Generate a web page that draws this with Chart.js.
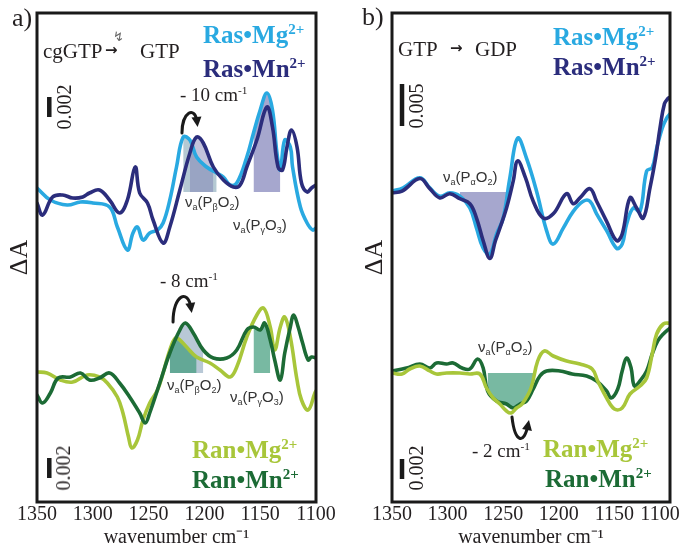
<!DOCTYPE html>
<html>
<head>
<meta charset="utf-8">
<title>FTIR difference spectra</title>
<script src="https://cdn.jsdelivr.net/npm/chart.js@4.4.1/dist/chart.umd.min.js"></script>
<style>
  html, body { margin:0; padding:0; background:#fff; }
  body { position:relative; width:679px; height:545px; overflow:hidden;
         font-family:"Liberation Serif", "Times New Roman", serif; color:#231f20; }
  canvas { position:absolute; top:0; }
  #chart-a { left:0; }
  #chart-b { left:340px; }
  .t { position:absolute; white-space:nowrap; line-height:1; }
  .panel { font-size:26px; }
  .rxn { font-size:21px; }
  .arr { font-family:"DejaVu Sans", sans-serif; font-size:15px; font-weight:bold; }
  .flash { font-family:"DejaVu Sans", sans-serif; font-size:13px; color:#666; }
  .leg { font-size:25px; font-weight:bold; }
  .leg sup, .shift sup { font-size:0.6em; vertical-align:0.6em; line-height:0; }
  .shift { font-size:19px; }
  .mode { font-family:"Liberation Sans", Arial, sans-serif; font-size:15px; color:#333; }
  .mode sub { font-size:0.6em; vertical-align:-0.35em; line-height:0; }
  .bar { font-size:20px; transform:translate(-50%,-50%) rotate(-90deg); }
  .ras-mg { color:#29a9e1; } .ras-mn { color:#2b2d7c; }
  .ran-mg { color:#a8c63a; } .ran-mn { color:#1c6b35; }
</style>
</head>
<body>
<canvas id="chart-a" width="340" height="545"></canvas>
<canvas id="chart-b" width="339" height="545"></canvas>

<!-- panel a) -->
<div class="t panel" style="left:12px;top:5px;">a)</div>
<div class="t rxn" style="left:43px;top:41px;">cgGTP</div>
<div class="t arr" style="left:105px;top:43px;">→</div>
<div class="t flash" style="left:113px;top:30px;">↯</div>
<div class="t rxn" style="left:140px;top:41px;">GTP</div>
<div class="t leg ras-mg" style="left:203px;top:22px;">Ras•Mg<sup>2+</sup></div>
<div class="t leg ras-mn" style="left:203px;top:56px;">Ras•Mn<sup>2+</sup></div>
<div class="t leg ran-mg" style="left:192px;top:437px;">Ran•Mg<sup>2+</sup></div>
<div class="t leg ran-mn" style="left:192px;top:467px;">Ran•Mn<sup>2+</sup></div>
<div class="t shift" style="left:180px;top:85px;">- 10 cm<sup>-1</sup></div>
<div class="t shift" style="left:160px;top:271px;">- 8 cm<sup>-1</sup></div>
<div class="t mode" style="left:185px;top:194px;">ν<sub>a</sub>(P<sub>β</sub>O<sub>2</sub>)</div>
<div class="t mode" style="left:233px;top:217px;">ν<sub>a</sub>(P<sub>γ</sub>O<sub>3</sub>)</div>
<div class="t mode" style="left:167px;top:377px;">ν<sub>a</sub>(P<sub>β</sub>O<sub>2</sub>)</div>
<div class="t mode" style="left:230px;top:389px;">ν<sub>a</sub>(P<sub>γ</sub>O<sub>3</sub>)</div>
<div class="t bar" style="left:64px;top:107px;">0.002</div>
<div class="t bar" style="left:63px;top:468px;">0.002</div>

<!-- panel b) -->
<div class="t panel" style="left:362px;top:4px;">b)</div>
<div class="t rxn" style="left:398px;top:39px;">GTP</div>
<div class="t arr" style="left:450px;top:41px;">→</div>
<div class="t rxn" style="left:475px;top:39px;">GDP</div>
<div class="t leg ras-mg" style="left:553px;top:24px;">Ras•Mg<sup>2+</sup></div>
<div class="t leg ras-mn" style="left:553px;top:54px;">Ras•Mn<sup>2+</sup></div>
<div class="t leg ran-mg" style="left:543px;top:436px;">Ran•Mg<sup>2+</sup></div>
<div class="t leg ran-mn" style="left:545px;top:466px;">Ran•Mn<sup>2+</sup></div>
<div class="t shift" style="left:472px;top:441px;">- 2 cm<sup>-1</sup></div>
<div class="t mode" style="left:443px;top:169px;">ν<sub>a</sub>(P<sub>α</sub>O<sub>2</sub>)</div>
<div class="t mode" style="left:478px;top:339px;">ν<sub>a</sub>(P<sub>α</sub>O<sub>2</sub>)</div>
<div class="t bar" style="left:416px;top:106px;">0.005</div>
<div class="t bar" style="left:416px;top:468px;">0.002</div>

<script>
/* ── 資料：[wavenumber cm-1, ΔA (mOD)] 讀自各條曲線 ───────────── */

// a) cgGTP → GTP
const rasMgA = [[1350,0.4],[1338,-0.8],[1323,-1.3],[1311,-1.0],[1300,-1.1],[1285,-1.5],[1278,-3.5],[1269,-5.8],[1264,-4.1],[1260,-3.5],[1255,-4.8],[1249,-4.1],[1242,-3.8],[1237,-3.1],[1231,-0.8],[1225,2.5],[1219,5.5],[1213,5.2],[1207,3.5],[1198,2.5],[1189,1.9],[1183,1.5],[1177,0.7],[1171,0.9],[1162,3.5],[1156,5.9],[1150,8.2],[1144,9.9],[1139,8.2],[1135,3.9],[1132,2.2],[1128,5.2],[1123,4.5],[1121,2.5],[1114,-1.5],[1108,-3.1],[1103,-3.8],[1100,-3.6]];
const rasMnA = [[1350,-1.1],[1345,-2.3],[1336,-0.5],[1327,-0.3],[1318,-0.6],[1309,-0.5],[1303,-0.1],[1294,0.2],[1285,-0.8],[1276,-2.1],[1269,-0.8],[1262,2.5],[1258,-0.1],[1251,-1.1],[1246,-2.8],[1237,-5.1],[1231,-3.5],[1222,0.2],[1213,3.9],[1207,5.5],[1201,4.9],[1192,2.5],[1183,1.2],[1174,0.5],[1168,0.7],[1162,2.5],[1153,5.2],[1144,8.5],[1139,6.5],[1134,2.5],[1130,2.2],[1126,4.5],[1122,6.2],[1117,4.5],[1113,0.9],[1108,0.0],[1104,0.4],[1100,0.7]];
const ranMgA = [[1350,0.1],[1341,0.0],[1329,-0.7],[1318,-0.9],[1305,-0.2],[1294,-0.4],[1287,-1.0],[1278,-2.4],[1273,-4.0],[1268,-6.4],[1265,-7.5],[1260,-6.7],[1255,-4.7],[1249,-3.0],[1242,-1.7],[1237,0.0],[1231,2.3],[1226,3.5],[1222,3.3],[1216,2.6],[1207,1.6],[1195,1.0],[1186,0.3],[1177,-0.4],[1171,0.6],[1162,3.6],[1153,5.8],[1147,6.5],[1141,4.6],[1137,2.3],[1132,4.6],[1128,5.6],[1123,3.6],[1117,-0.7],[1113,-2.7],[1107,-3.7],[1101,-2.0],[1100,-1.8]];
const ranMnA = [[1350,-2.2],[1345,-3.0],[1338,-2.0],[1331,-0.5],[1320,-0.4],[1311,0.0],[1303,-0.7],[1294,-0.5],[1285,0.0],[1276,-1.0],[1267,-2.4],[1258,-4.0],[1253,-5.0],[1249,-4.0],[1240,-1.0],[1231,2.0],[1222,4.3],[1217,5.0],[1210,4.0],[1201,2.3],[1192,1.5],[1180,1.5],[1171,2.3],[1162,4.3],[1156,4.6],[1150,4.3],[1146,5.0],[1141,3.3],[1137,1.3],[1132,-0.7],[1128,2.0],[1123,4.6],[1120,5.8],[1116,4.6],[1112,3.0],[1107,1.3],[1104,1.6],[1100,1.5]];

// b) GTP → GDP
const rasMgB = [[1350,0.1],[1340,0.5],[1325,1.7],[1316,0.5],[1307,-0.5],[1298,-0.1],[1289,-0.5],[1280,-1.9],[1274,-4.3],[1268,-6.7],[1262,-7.4],[1256,-5.0],[1250,-3.1],[1244,1.7],[1237,6.4],[1229,4.0],[1220,0.1],[1211,-4.6],[1205,-6.2],[1196,-4.3],[1187,-2.3],[1178,-1.1],[1172,-1.1],[1166,-2.6],[1157,-4.6],[1148,-6.7],[1143,-6.2],[1139,-3.8],[1133,-1.9],[1127,-2.3],[1121,2.5],[1116,2.9],[1112,5.2],[1107,7.6],[1103,8.8],[1100,9.3]];
const rasMnB = [[1350,-0.1],[1341,0.1],[1325,1.6],[1316,0.4],[1307,-0.7],[1298,-0.2],[1289,-0.8],[1280,-1.4],[1274,-3.1],[1268,-5.8],[1262,-7.9],[1257,-5.8],[1253,-4.3],[1247,-1.9],[1241,1.3],[1237,3.7],[1230,1.7],[1223,-1.1],[1214,-3.1],[1205,-2.6],[1193,-0.2],[1187,-1.4],[1181,-0.7],[1172,0.4],[1166,-1.1],[1157,-3.5],[1148,-5.8],[1143,-5.0],[1136,-0.7],[1130,-1.9],[1124,-3.1],[1118,0.5],[1113,4.0],[1109,7.6],[1105,10.5],[1102,11.1],[1100,11.3]];
const ranMgB = [[1350,0.0],[1341,-0.1],[1334,0.4],[1325,0.7],[1316,0.2],[1310,-0.1],[1301,0.0],[1289,0.0],[1280,-0.1],[1271,-0.1],[1265,-1.5],[1259,-2.5],[1253,-3.1],[1247,-3.8],[1243,-4.0],[1238,-3.5],[1233,-3.1],[1225,-1.5],[1219,1.2],[1213,2.2],[1205,1.7],[1193,1.2],[1181,0.9],[1170,0.4],[1165,-0.8],[1157,-2.5],[1150,-3.6],[1143,-3.5],[1136,-2.1],[1127,-1.3],[1121,-0.5],[1116,1.9],[1112,3.9],[1106,4.9],[1100,5.0]];
const ranMnB = [[1350,0.2],[1337,0.5],[1325,0.9],[1316,0.5],[1310,1.0],[1301,0.9],[1295,1.0],[1287,0.5],[1280,0.4],[1273,1.4],[1268,0.5],[1264,-1.8],[1256,-2.8],[1247,-3.1],[1241,-3.5],[1235,-3.1],[1229,-2.8],[1223,-1.6],[1217,-0.3],[1211,0.2],[1199,0.2],[1188,-0.1],[1175,-0.3],[1166,-0.8],[1157,-1.8],[1153,-2.5],[1147,-1.6],[1143,0.2],[1139,1.5],[1135,0.5],[1132,-1.3],[1127,-0.8],[1121,0.2],[1116,1.9],[1111,3.2],[1106,3.9],[1100,4.5]];

const WN_TICKS = [1350, 1300, 1250, 1200, 1150, 1100];

/* ── 樣式 ─────────────────────────────────────────────── */
const INK   = '#231f20';
const SERIF = '"Liberation Serif", "Times New Roman", serif';
const COL = { rasMg: '#29a9e1', rasMn: '#2b2d7c', ranMg: '#a8c63a', ranMn: '#1c6b35' };
const Y_MAX = 48.9;          // 軸單位：0.1 mOD ↔ 1 px
const UPPER = 31.0, LOWER = 12.9;

/* ── 內部函式 ──────────────────────────────────────────── */
function toPts(series, base, gain) {
  return series.map(([x, v]) => ({ x, y: base + v * gain }));
}

function line(series, base, gain, color, order) {
  return {
    data: toPts(series, base, gain),
    borderColor: color, borderWidth: 3.6, pointRadius: 0,
    tension: 0.4, fill: false, order,
    borderCapStyle: 'round', borderJoinStyle: 'round'
  };
}

/* 陰影：取出區間內的點，填到基線 */
function shade(series, base, gain, lo, hi, color, order) {
  return {
    data: toPts(series.filter(([x]) => x >= lo && x <= hi), base, gain),
    borderWidth: 0, pointRadius: 0, tension: 0.4,
    backgroundColor: color, fill: { value: base }, order
  };
}

const framePlugin = {
  id: 'frame',
  afterDraw(chart) {
    const { ctx, chartArea: a } = chart;
    ctx.save();
    ctx.lineWidth = 3;
    ctx.strokeStyle = '#1a1a1a';
    ctx.strokeRect(a.left, a.top, a.right - a.left, a.bottom - a.top);
    ctx.restore();
  }
};

/* 比例尺與位移箭頭，位置以 (wavenumber, 軸單位) 經由 scales 換算 */
const marksPlugin = {
  id: 'marks',
  afterDatasetsDraw(chart, args, opts) {
    const { ctx, scales: { x, y } } = chart;
    ctx.save();
    ctx.fillStyle = '#1a1a1a';
    ctx.strokeStyle = '#1a1a1a';
    (opts.bars || []).forEach(b => {
      const px = x.getPixelForValue(b.wn);
      const y0 = y.getPixelForValue(b.base);
      const y1 = y.getPixelForValue(b.base + b.mOD * b.gain);
      ctx.fillRect(px - 2.25, y1, 4.5, y0 - y1);
    });
    ctx.lineWidth = 3;
    ctx.lineCap = 'round';
    (opts.arrows || []).forEach(a => {
      const p = a.map(([wn, v]) => [x.getPixelForValue(wn), y.getPixelForValue(v)]);
      ctx.beginPath();
      ctx.moveTo(p[0][0], p[0][1]);
      ctx.bezierCurveTo(p[1][0], p[1][1], p[2][0], p[2][1], p[3][0], p[3][1]);
      ctx.stroke();
      const ang = Math.atan2(p[3][1] - p[2][1], p[3][0] - p[2][0]);
      const dx = Math.cos(ang), dy = Math.sin(ang);
      const tx = p[3][0] + dx * 5, ty = p[3][1] + dy * 5;
      ctx.beginPath();
      ctx.moveTo(tx, ty);
      ctx.lineTo(tx - dx * 10 - dy * 5, ty - dy * 10 + dx * 5);
      ctx.lineTo(tx - dx * 10 + dy * 5, ty - dy * 10 - dx * 5);
      ctx.closePath();
      ctx.fill();
    });
    ctx.restore();
  }
};

function renderPanel(canvasId, datasets, padding, marks, lastLabel) {
  const ctx = document.getElementById(canvasId).getContext('2d');
  new Chart(ctx, {
    type: 'line',
    data: { datasets },
    options: {
      responsive: false,
      animation: false,
      devicePixelRatio: 1,
      layout: { padding },
      plugins: { legend: { display: false }, tooltip: { enabled: false }, marks },
      scales: {
        x: {
          type: 'linear', reverse: true, min: 1100, max: 1350,
          grid: { display: false, drawTicks: false }, border: { display: false },
          afterBuildTicks: s => { s.ticks = WN_TICKS.map(v => ({ value: v })); },
          afterFit: s => { s.paddingLeft = 0; s.paddingRight = 0; },
          ticks: {
            padding: 3, color: INK, maxRotation: 0, autoSkip: false,
            font: { family: SERIF, size: 20, lineHeight: 1 },
            callback: v => (v === 1100 ? lastLabel : String(v))
          },
          title: {
            display: true, text: 'wavenumber cm⁻¹', color: INK,
            font: { family: SERIF, size: 20, lineHeight: 0.7 },
            padding: { top: 3, bottom: 0 }
          }
        },
        y: {
          min: 0, max: Y_MAX,
          grid: { display: false, drawTicks: false }, border: { display: false },
          ticks: { display: false },
          title: {
            display: true, text: 'ΔA', color: INK,
            font: { family: SERIF, size: 26, lineHeight: 1 },
            padding: { top: 2, bottom: 4 }
          }
        }
      }
    },
    plugins: [framePlugin, marksPlugin]
  });
}

/* ── a) ── */
renderPanel('chart-a', [
  shade(rasMgA, UPPER, 1, 1186, 1219, 'rgba(150,178,192,0.7)', 12),
  shade(rasMnA, UPPER, 1, 1186, 1219, 'rgba(120,120,176,0.45)', 11),
  shade(rasMgA, UPPER, 1, 1130, 1157, 'rgba(118,120,180,0.65)', 10),
  shade(ranMnA, LOWER, 1, 1197, 1231, 'rgba(160,182,200,0.75)', 12),
  shade(ranMgA, LOWER, 1, 1197, 1231, 'rgba(62,155,122,0.7)', 11),
  shade(ranMnA, LOWER, 1, 1139, 1156, 'rgba(62,155,122,0.7)', 10),
  line(rasMgA, UPPER, 1, COL.rasMg, 3),
  line(rasMnA, UPPER, 1, COL.rasMn, 2),
  line(ranMgA, LOWER, 1, COL.ranMg, 1),
  line(ranMnA, LOWER, 1, COL.ranMn, 0)
], { left: 5, top: 13, right: 24, bottom: 0 }, {
  bars: [
    { wn: 1339, base: 38.5, mOD: 2, gain: 1 },
    { wn: 1339, base: 2.4,  mOD: 2, gain: 1 }
  ],
  arrows: [
    [[1220.1, 36.9], [1220.1, 39.0], [1208.4, 39.7], [1206.6, 38.0]],
    [[1228.1, 18.0], [1228.1, 20.7], [1214.7, 21.4], [1212.0, 19.4]]
  ]
}, '1100');

/* ── b) ── */
renderPanel('chart-b', [
  shade(rasMnB, UPPER, 0.84, 1247, 1289, 'rgba(118,120,180,0.65)', 10),
  shade(ranMnB, LOWER, 1, 1220, 1266, 'rgba(62,155,122,0.7)', 10),
  line(rasMgB, UPPER, 0.84, COL.rasMg, 3),
  line(rasMnB, UPPER, 0.84, COL.rasMn, 2),
  line(ranMnB, LOWER, 1, COL.ranMn, 1),
  line(ranMgB, LOWER, 1, COL.ranMg, 0)
], { left: 20, top: 13, right: 9, bottom: 0 }, {
  bars: [
    { wn: 1341, base: 37.6, mOD: 5, gain: 0.84 },
    { wn: 1341, base: 2.3,  mOD: 2, gain: 1 }
  ],
  arrows: [
    [[1242.1, 8.5], [1239.4, 5.9], [1231.3, 5.7], [1227.7, 7.7]]
  ]
}, '1100\u2002\u2002');
</script>
</body>
</html>
